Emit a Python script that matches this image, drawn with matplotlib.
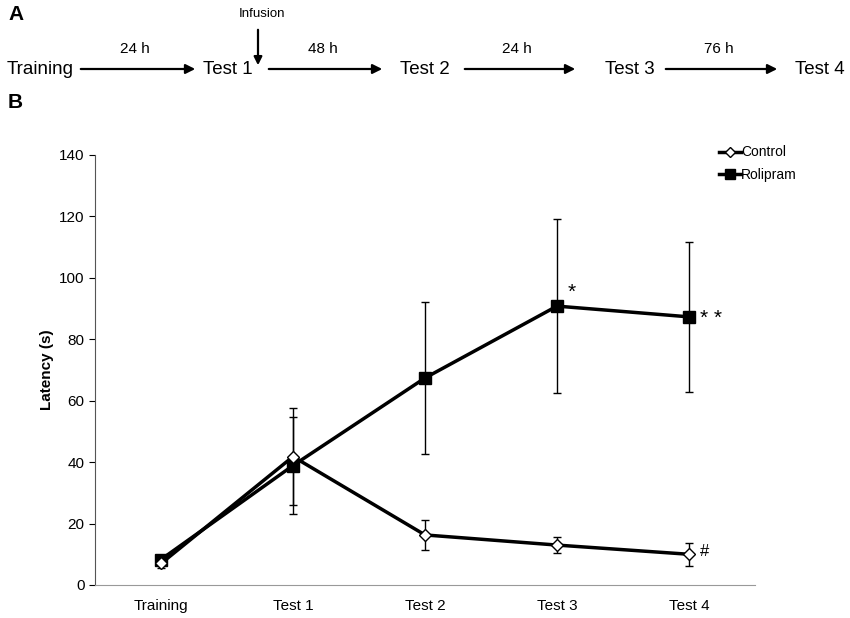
import numpy as np
import matplotlib.pyplot as plt
from matplotlib.lines import Line2D

plt.rcParams['font.family'] = ['Liberation Sans', 'DejaVu Sans']

# Datos
sesiones = ["Training", "Test 1", "Test 2", "Test 3", "Test 4"]
control = [7.0, 41.8, 16.3, 13.0, 10.0]
control_err = [1.5, 15.8, 5.0, 2.5, 3.7]
rolipram = [8.3, 38.9, 67.4, 90.8, 87.3]
rolipram_err = [1.5, 15.8, 24.7, 28.4, 24.5]

# Linea de tiempo (panel A)
etapas = ["Training", "Test 1", "Test 2", "Test 3", "Test 4"]
intervalos = ["24 h", "48 h", "24 h", "76 h"]

fig = plt.figure(figsize=(8.5, 6.18), dpi=100)

# Panel A en coordenadas de pixel
axA = fig.add_axes([0, 0, 1, 1])
axA.set_xlim(0, 850)
axA.set_ylim(618, 0)
axA.axis("off")
pos_etapas = [40, 228, 425, 630, 820]
flechas = [(78, 198), (266, 385), (462, 578), (663, 780)]
for nombre, x in zip(etapas, pos_etapas):
    axA.text(x, 69, nombre, ha="center", va="center", fontsize=13.5)
for etiqueta, (x0, x1) in zip(intervalos, flechas):
    axA.annotate("", xy=(x1, 69), xytext=(x0, 69),
                 arrowprops=dict(arrowstyle="-|>", color="black", lw=1.6,
                                 mutation_scale=14))
    axA.text((x0 + x1) / 2 - 3, 49, etiqueta, ha="center", va="center",
             fontsize=11)
axA.annotate("", xy=(258, 68), xytext=(258, 27),
             arrowprops=dict(arrowstyle="-|>", color="black", lw=1.6,
                             mutation_scale=12))
axA.text(262, 14, "Infusion", ha="center", va="center", fontsize=9.5)
axA.text(8, 14, "A", fontsize=15, fontweight="bold", va="center")
axA.text(8, 103, "B", fontsize=15, fontweight="bold", va="center")

# Panel B
ax = fig.add_axes([0.1118, 0.0534, 0.7764, 0.6958])
x = np.arange(len(sesiones))
ax.errorbar(x, control, yerr=control_err, color="black", lw=2.5,
            marker="D", markersize=6, markerfacecolor="white",
            markeredgecolor="black", markeredgewidth=1,
            ecolor="black", elinewidth=1, capsize=3, capthick=1, zorder=3)
ax.errorbar(x, rolipram, yerr=rolipram_err, color="black", lw=2.5,
            marker="s", markersize=8, markerfacecolor="black",
            ecolor="black", elinewidth=1, capsize=3, capthick=1, zorder=2)

ax.text(x[3] + 0.08, rolipram[3] + 4.5, "*", fontsize=15, ha="left", va="center")
ax.text(x[4] + 0.08, rolipram[4] - 0.5, "* *", fontsize=15, ha="left", va="center")
ax.text(x[4] + 0.08, control[4] + 1, "#", fontsize=12, ha="left", va="center")

ax.set_xlim(-0.5, 4.5)
ax.set_ylim(0, 140)
ax.set_yticks(range(0, 141, 20))
ax.set_xticks(x)
ax.set_xticklabels(sesiones, fontsize=11)
ax.tick_params(axis="y", labelsize=11, direction="out", length=4)
ax.tick_params(axis="x", length=0, pad=10)
ax.set_ylabel("Latency (s)", fontsize=11, fontweight="bold")
ax.spines["top"].set_visible(False)
ax.spines["right"].set_visible(False)
ax.spines["bottom"].set_color("#999999")
ax.spines["left"].set_color("#555555")

handles = [
    Line2D([], [], color="black", lw=2.5, marker="D", markersize=5,
           markerfacecolor="white", markeredgecolor="black", markeredgewidth=1),
    Line2D([], [], color="black", lw=2.5, marker="s", markersize=7,
           markerfacecolor="black"),
]
ax.legend(handles, ["Control", "Rolipram"], loc="upper left",
          bbox_to_anchor=(0.937, 1.035), frameon=False, fontsize=10,
          handlelength=1.6, handletextpad=0.0, labelspacing=0.6,
          borderaxespad=0)

fig.savefig("out.png", dpi=100)
